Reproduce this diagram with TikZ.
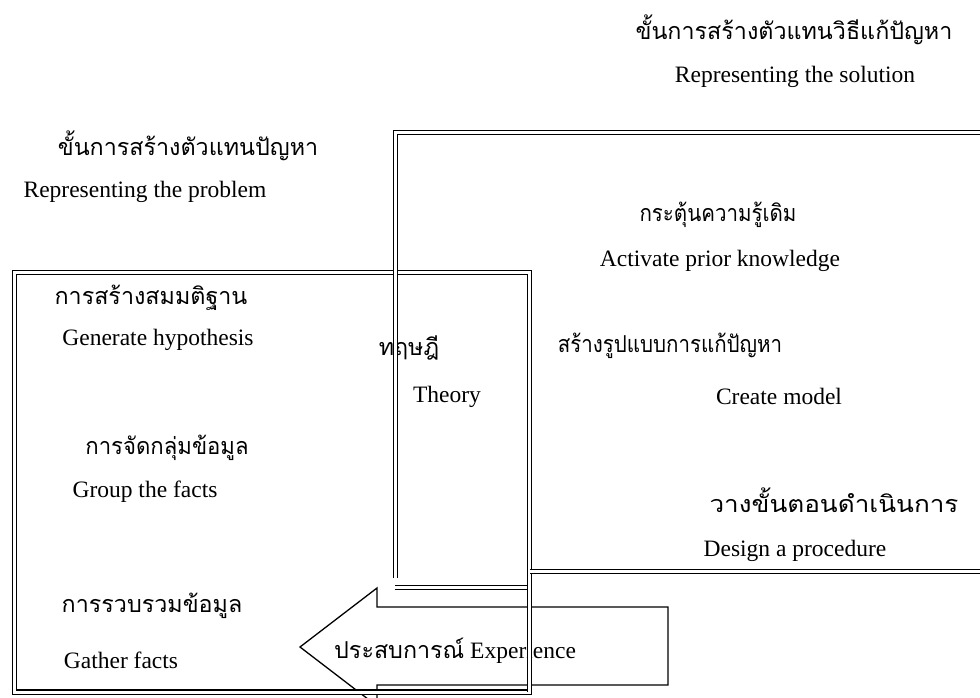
\documentclass[tikz,border=0pt]{standalone}
\usepackage{fontspec}
\setmainfont{Liberation Serif}
\newfontfamily\thai[Script=Thai]{Loma}
\newcommand{\hsq}[2]{\scalebox{#1}[1]{#2}}
\begin{document}
\begin{tikzpicture}[x=1pt,y=-1pt,
  en/.style={font=\fontsize{23.5}{28}\selectfont, inner sep=0pt, anchor=base},
  th/.style={font=\thai\fontsize{23.3}{28}\selectfont, inner sep=0pt, anchor=base},
  dbl/.style={double=white, double distance=3pt, line width=1.4pt},
  arrowshape/.style={line width=1.3pt, line join=miter}]
\useasboundingbox (0,0) rectangle (980,698);
\clip (0,0) rectangle (980,698);
% headings
\node[th] (h2th) at (794,40) {ขั้นการสร้างตัวแทนวิธีแก้ปัญหา};
\node[en] (h2en) at (795,83) {Representing the solution};
\node[th] (h1th) at (188,156) {ขั้นการสร้างตัวแทนปัญหา};
\node[en] (h1en) at (145,197) {Representing the problem};
% right box texts
\node[th] (actth) at (718,221) {\hsq{0.88}{กระตุ้นความรู้เดิม}};
\node[en] (acten) at (720,266) {Activate prior knowledge};
\node[th] (modth) at (670,352) {\hsq{0.88}{สร้างรูปแบบการแก้ปัญหา}};
\node[en] (moden) at (779,404) {Create model};
\node[th] (desth) at (834,512) {\hsq{1.12}{วางขั้นตอนดำเนินการ}};
\node[en] (desen) at (795,556) {Design a procedure};
% left box texts
\node[th] (hypth) at (151,304) {การสร้างสมมติฐาน};
\node[en] (hypen) at (158,345) {Generate hypothesis};
\node[th] (grpth) at (167,454) {\hsq{0.95}{การจัดกลุ่มข้อมูล}};
\node[en] (grpen) at (145,497) {Group the facts};
\node[th] (gatth) at (152,612) {การรวบรวมข้อมูล};
\node[en] (gaten) at (121,668) {Gather facts};
% theory
\node[th] (theoth) at (409,355) {ทฤษฎี};
\node[en] (theoen) at (447,402) {Theory};
% experience arrow
\draw[arrowshape] (377,588) -- (377,607) -- (668,607) -- (668,685) -- (377,685)
  -- (377,706) -- (300,647) -- cycle;
\node[en, anchor=base west] (exp) at (334,658) {{\thai\fontsize{23.3}{28}\selectfont ประสบการณ์} Experience};
% boxes
\draw[dbl] (14.5,272.5) rectangle (529.5,692);
\draw[dbl] (980,132.5) -- (395.5,132.5) -- (395.5,578);
\draw[dbl] (529.5,571.5) -- (980,571.5);
\draw[dbl] (395,587.5) -- (529.5,587.5);
\draw[dbl] (529.5,575) -- (529.5,692);
\end{tikzpicture}
\end{document}
